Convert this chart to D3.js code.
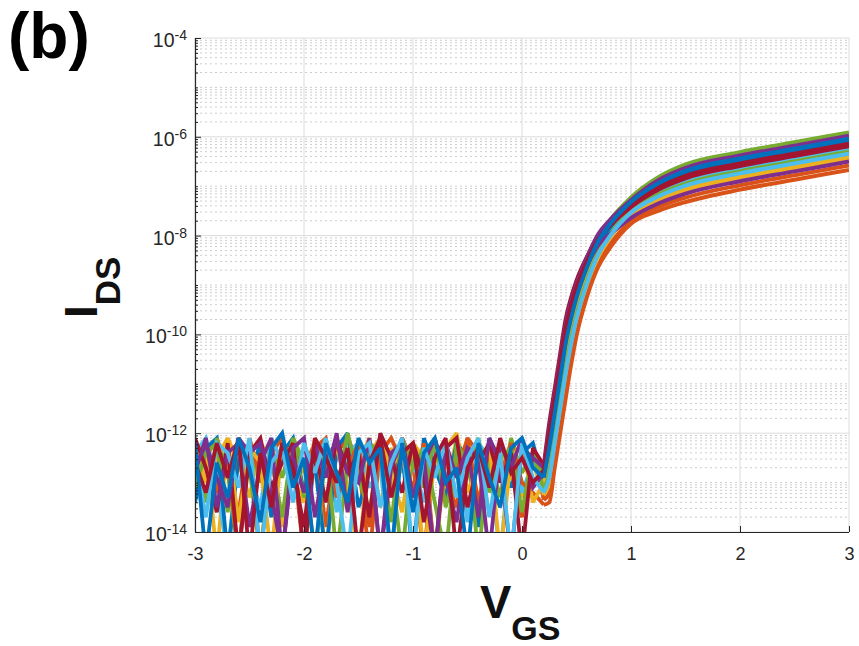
<!DOCTYPE html>
<html><head><meta charset="utf-8">
<script src="https://cdn.jsdelivr.net/npm/d3@7"></script>
<style>body{margin:0;background:#fff}svg{display:block}</style>
</head><body>
<svg id="chart" width="859" height="646"></svg>
<script>
// ---------- data (log10 of I_DS in A) ----------
const vgsNoise = [-3.0,-2.9,-2.8,-2.7,-2.6,-2.5,-2.4,-2.3,-2.2,-2.1,-2.0,-1.9,-1.8,-1.7,-1.6,-1.5,
  -1.4,-1.3,-1.2,-1.1,-1.0,-0.9,-0.8,-0.7,-0.6,-0.5,-0.4,-0.3,-0.2,-0.1,0.0,0.1];
const vgsOn = [0.2,0.25,0.3,0.35,0.4,0.45,0.5,0.6,0.7,0.8,1.0,1.25,1.5,2.0,2.5,3.0];

const noiseA = [-12.3,-13.4,-12.1,-12.8,-14.5,-12.2,-13.0,-12.5,-13.7,-12.1,-12.6,-14.5,-12.4,-13.2,-12.0,-12.9,-13.6,-12.2,-12.7,-14.5,-12.3,-13.1,-12.1,-13.5,-12.6,-12.2,-14.5,-12.4,-13.3,-12.1,-12.8,-12.4];
const noiseB = [-12.8,-12.1,-13.5,-12.4,-12.2,-13.9,-12.6,-12.1,-14.5,-12.5,-13.2,-12.2,-12.9,-12.0,-13.6,-12.4,-12.2,-14.5,-12.7,-12.1,-13.3,-12.5,-14.5,-12.2,-12.9,-12.3,-13.7,-12.1,-12.6,-14.5,-12.3,-12.5];
const noiseC = [-12.2,-14.5,-12.6,-13.3,-12.1,-12.7,-13.8,-12.3,-12.0,-13.1,-12.5,-14.5,-12.2,-12.8,-13.4,-12.1,-12.6,-12.3,-14.5,-12.2,-13.6,-12.4,-12.1,-13.0,-12.7,-14.5,-12.2,-12.9,-13.5,-12.3,-12.1,-12.7];
const noiseD = [-13.4,-12.3,-12.1,-14.5,-12.5,-12.9,-12.2,-13.7,-12.4,-12.1,-13.2,-12.6,-14.5,-12.3,-12.0,-13.5,-12.8,-12.2,-13.0,-12.4,-14.5,-12.1,-12.7,-13.3,-12.2,-12.5,-13.9,-12.1,-12.6,-13.1,-12.4,-12.2];
const noiseE = [-12.1,-12.7,-13.6,-12.2,-14.5,-12.4,-12.1,-13.1,-12.6,-12.2,-14.5,-12.3,-13.4,-12.1,-12.8,-12.4,-13.7,-12.0,-12.5,-13.2,-12.2,-12.9,-14.5,-12.3,-12.1,-13.5,-12.6,-12.2,-13.0,-12.4,-14.5,-12.3];
const noiseF = [-12.6,-13.2,-12.2,-12.9,-12.1,-14.5,-12.4,-13.5,-12.2,-12.7,-13.9,-12.1,-12.5,-13.0,-12.3,-14.5,-12.6,-12.1,-13.3,-12.4,-12.2,-13.8,-12.5,-12.1,-14.5,-12.7,-12.3,-13.1,-12.1,-12.8,-12.5,-13.0];
const noiseG = [-12.4,-12.1,-13.0,-14.5,-12.3,-12.8,-13.5,-12.1,-12.6,-12.3,-14.5,-12.5,-12.1,-13.6,-12.4,-12.2,-13.1,-12.7,-14.5,-12.2,-12.6,-13.4,-12.1,-12.9,-12.4,-13.8,-12.2,-12.5,-14.5,-12.2,-13.2,-12.6];
const noiseH = [-13.1,-12.4,-12.2,-13.6,-12.1,-12.7,-14.5,-12.3,-12.9,-12.1,-13.3,-12.5,-12.2,-14.5,-12.6,-13.0,-12.2,-12.4,-13.8,-12.1,-12.7,-12.3,-13.4,-14.5,-12.2,-12.6,-12.1,-13.2,-12.5,-12.3,-13.6,-12.4];
const noiseI = [-12.5,-13.7,-12.2,-12.4,-13.1,-12.1,-14.5,-12.6,-12.3,-13.4,-12.2,-12.8,-12.1,-13.0,-14.5,-12.4,-12.2,-13.5,-12.6,-12.1,-14.5,-12.3,-12.9,-12.2,-13.3,-12.5,-12.1,-13.7,-12.4,-14.5,-12.2,-12.9];
const noiseJ = [-12.9,-12.3,-14.5,-12.1,-12.6,-13.3,-12.2,-12.5,-13.9,-12.1,-12.8,-12.4,-14.5,-12.2,-13.1,-12.6,-12.1,-13.5,-12.3,-12.8,-12.2,-14.5,-12.5,-13.2,-12.1,-12.7,-13.6,-12.2,-12.4,-12.9,-13.3,-12.6];
const noiseK = [-12.2,-13.0,-12.5,-12.1,-13.8,-12.3,-12.6,-14.5,-12.2,-12.9,-13.4,-12.1,-12.7,-12.3,-13.1,-14.5,-12.4,-12.1,-12.8,-13.6,-12.2,-12.5,-14.5,-12.3,-12.0,-13.2,-12.6,-12.2,-14.5,-12.5,-12.2,-13.4];
const noiseL = [-12.7,-12.2,-12.9,-13.5,-12.1,-12.4,-12.2,-13.2,-14.5,-12.3,-12.1,-13.7,-12.5,-12.2,-12.8,-13.0,-12.1,-14.5,-12.4,-12.2,-13.3,-12.6,-12.1,-12.9,-13.8,-12.3,-12.5,-14.5,-12.2,-12.7,-12.1,-13.1];
const noiseM = [-13.3,-12.5,-12.1,-12.8,-13.6,-12.2,-14.5,-12.4,-12.1,-13.0,-12.7,-12.2,-13.9,-12.4,-12.1,-12.6,-14.5,-12.3,-13.2,-12.1,-12.6,-14.5,-12.2,-12.9,-13.5,-12.1,-12.4,-13.1,-12.2,-12.8,-13.7,-12.4];
const noiseN = [-12.5,-12.2,-13.2,-12.6,-14.5,-12.1,-12.9,-13.4,-12.2,-12.5,-14.5,-12.3,-12.1,-13.3,-12.7,-12.2,-13.9,-12.4,-12.1,-12.6,-13.1,-12.2,-14.5,-12.5,-12.8,-12.1,-13.4,-12.3,-12.9,-12.2,-13.0,-13.2];

const onA = [-12.85,-12.2,-11.5,-10.8,-10.1,-9.6,-9.19,-8.56,-8.04,-7.71,-7.23,-6.82,-6.56,-6.31,-6.11,-5.91];
const onB = [-12.7,-11.9,-11.2,-10.5,-9.8,-9.34,-8.98,-8.43,-7.97,-7.7,-7.28,-6.88,-6.63,-6.38,-6.18,-5.98];
const onC = [-12.9,-12.3,-11.6,-10.9,-10.2,-9.68,-9.26,-8.62,-8.11,-7.79,-7.32,-6.94,-6.69,-6.44,-6.24,-6.04];
const onD = [-13.05,-12.6,-11.9,-11.2,-10.5,-9.94,-9.47,-8.76,-8.22,-7.86,-7.35,-6.98,-6.74,-6.49,-6.29,-6.09];
const onE = [-12.65,-11.8,-11.1,-10.4,-9.7,-9.26,-8.91,-8.41,-7.99,-7.77,-7.39,-7.03,-6.79,-6.54,-6.34,-6.14];
const onF = [-12.75,-12.0,-11.3,-10.6,-9.9,-9.43,-9.05,-8.51,-8.07,-7.82,-7.42,-7.07,-6.84,-6.59,-6.39,-6.19];
const onG = [-13.1,-12.7,-12.0,-11.3,-10.6,-10.02,-9.54,-8.83,-8.3,-7.96,-7.47,-7.13,-6.9,-6.65,-6.45,-6.25];
const onH = [-13.15,-12.8,-12.1,-11.4,-10.7,-10.11,-9.61,-8.89,-8.34,-8.0,-7.5,-7.17,-6.95,-6.7,-6.5,-6.3];
const onI = [-13.2,-12.9,-12.2,-11.5,-10.8,-10.19,-9.68,-8.94,-8.38,-8.03,-7.53,-7.21,-6.99,-6.74,-6.54,-6.34];
const onJ = [-13.25,-13.0,-12.3,-11.6,-10.9,-10.28,-9.75,-8.99,-8.43,-8.07,-7.56,-7.25,-7.04,-6.79,-6.59,-6.39];
const onK = [-13.0,-12.5,-11.8,-11.1,-10.4,-9.85,-9.4,-8.77,-8.29,-8.02,-7.6,-7.3,-7.09,-6.84,-6.64,-6.44];
const onL = [-12.8,-12.1,-11.4,-10.7,-10.0,-9.51,-9.12,-8.6,-8.19,-7.99,-7.64,-7.35,-7.15,-6.9,-6.7,-6.5];
const onM = [-13.35,-13.2,-12.5,-11.8,-11.1,-10.45,-9.89,-9.11,-8.54,-8.2,-7.7,-7.42,-7.23,-6.98,-6.78,-6.58];
const onN = [-13.45,-13.4,-12.7,-12.0,-11.3,-10.62,-10.03,-9.21,-8.63,-8.27,-7.76,-7.5,-7.32,-7.07,-6.87,-6.67];

const seriesColors = ["#77AC30","#7E2F8E","#0072BD","#0072BD","#A2142F","#A2142F","#4DBEEE","#77AC30","#4DBEEE","#EDB120","#EDB120","#7E2F8E","#D95319","#D95319"];
const noiseSets = [noiseA,noiseB,noiseC,noiseD,noiseE,noiseF,noiseG,noiseH,noiseI,noiseJ,noiseK,noiseL,noiseM,noiseN];
const onSets = [onA,onB,onC,onD,onE,onF,onG,onH,onI,onJ,onK,onL,onM,onN];
const drawOrder = [12,9,6,3,0,13,10,7,4,1,11,8,5,2];

const xTicks = [-3,-2,-1,0,1,2,3];
const yMajorExps = [-14,-12,-10,-8,-6,-4];

// ---------- chart ----------
const svg = d3.select("#chart");
const L = 195, R = 849, T = 38, B = 532;
const x = d3.scaleLinear().domain([-3,3]).range([L,R]);
const y = d3.scaleLog().domain([1e-14,1e-4]).range([B,T]);
const axisColor = "#262626";
const font = "'Liberation Sans', Arial, Helvetica, sans-serif";

const majors = yMajorExps.map(e => Math.pow(10,e));
const minors = [];
for (let k = -14; k < -4; k++) {
  for (let m = 1; m <= 9; m++) {
    if (m === 1 && yMajorExps.includes(k)) continue;
    minors.push(m * Math.pow(10,k));
  }
}

const grid = svg.append("g");
grid.selectAll(".mn").data(minors).join("line")
  .attr("x1",L).attr("x2",R).attr("y1",d=>y(d)).attr("y2",d=>y(d))
  .attr("stroke","#cdcdcd").attr("stroke-width",1).attr("stroke-dasharray","2,3");
grid.selectAll(".mj").data(majors).join("line")
  .attr("x1",L).attr("x2",R).attr("y1",d=>y(d)).attr("y2",d=>y(d))
  .attr("stroke","#dcdcdc").attr("stroke-width",1);
grid.selectAll(".vx").data(xTicks).join("line")
  .attr("x1",d=>x(d)).attr("x2",d=>x(d)).attr("y1",T).attr("y2",B)
  .attr("stroke","#dcdcdc").attr("stroke-width",1);

svg.append("defs").append("clipPath").attr("id","clip")
  .append("rect").attr("x",L).attr("y",T).attr("width",R-L).attr("height",B-T);

const plot = svg.append("g").attr("clip-path","url(#clip)");
const lineLin = d3.line().x(d=>x(d[0])).y(d=>y(Math.pow(10,d[1]))).curve(d3.curveLinear);
const lineSm = d3.line().x(d=>x(d[0])).y(d=>y(Math.pow(10,d[1]))).curve(d3.curveMonotoneX);

drawOrder.forEach(i => {
  const nz = vgsNoise.map((v,j)=>[v, noiseSets[i][j]]);
  nz.push([vgsOn[0], onSets[i][0]]);
  const on = vgsOn.map((v,j)=>[v, onSets[i][j]]);
  plot.append("path").attr("d", lineLin(nz)).attr("fill","none")
    .attr("stroke", seriesColors[i]).attr("stroke-width",3.8).attr("stroke-linejoin","miter").attr("stroke-miterlimit",2.5);
  plot.append("path").attr("d", lineSm(on)).attr("fill","none")
    .attr("stroke", seriesColors[i]).attr("stroke-width",4).attr("stroke-linejoin","round");
});

// axes
const yMinorAxis = d3.axisLeft(y).tickValues(minors).tickSize(-3).tickFormat("");
const yMajorAxis = d3.axisLeft(y).tickValues(majors).tickSize(-6).tickFormat("");
const gy1 = svg.append("g").attr("transform",`translate(${L},0)`).call(yMinorAxis);
const gy2 = svg.append("g").attr("transform",`translate(${L},0)`).call(yMajorAxis);
[gy1,gy2].forEach(g=>{
  g.select(".domain").remove();
  g.selectAll("line").attr("stroke",axisColor);
});
svg.append("line").attr("x1",L+0.5).attr("x2",L+0.5).attr("y1",T).attr("y2",B+0.5)
  .attr("stroke",axisColor).attr("stroke-width",1.2);

const xAxis = d3.axisBottom(x).tickValues(xTicks).tickSize(-6).tickPadding(15).tickFormat(d=>String(d));
const gx = svg.append("g").attr("transform",`translate(0,${B})`).call(xAxis);
gx.select(".domain").remove();
gx.selectAll("line").attr("stroke",axisColor);
gx.selectAll("text").attr("font-family",font).attr("font-size",18).attr("fill",axisColor);
svg.append("line").attr("x1",L).attr("x2",R).attr("y1",B+0.5).attr("y2",B+0.5)
  .attr("stroke",axisColor).attr("stroke-width",1.2);

// y tick labels 10^n
const yl = svg.append("g");
yMajorExps.forEach(e => {
  const t = yl.append("text").attr("x",187).attr("y",y(Math.pow(10,e))+9)
    .attr("text-anchor","end").attr("font-family",font).attr("fill",axisColor);
  t.append("tspan").attr("font-size",19.5).text("10");
  t.append("tspan").attr("font-size",14).attr("dy",-7).text(String(e));
});

// title and axis labels
svg.append("text").attr("x",8).attr("y",58).attr("font-family",font)
  .attr("font-weight","bold").attr("font-size",64).attr("fill","#000").text("(b)");

const xl = svg.append("text").attr("x",480).attr("y",618).attr("font-family",font)
  .attr("font-weight","bold").attr("fill","#111");
xl.append("tspan").attr("font-size",47).text("V");
xl.append("tspan").attr("font-size",34).attr("dy",22).text("GS");

const ylab = svg.append("text").attr("transform","translate(97,318) rotate(-90)")
  .attr("font-family",font).attr("font-weight","bold").attr("fill","#111");
ylab.append("tspan").attr("font-size",46).text("I");
ylab.append("tspan").attr("font-size",35).attr("dy",23).text("DS");
</script>
</body></html>
